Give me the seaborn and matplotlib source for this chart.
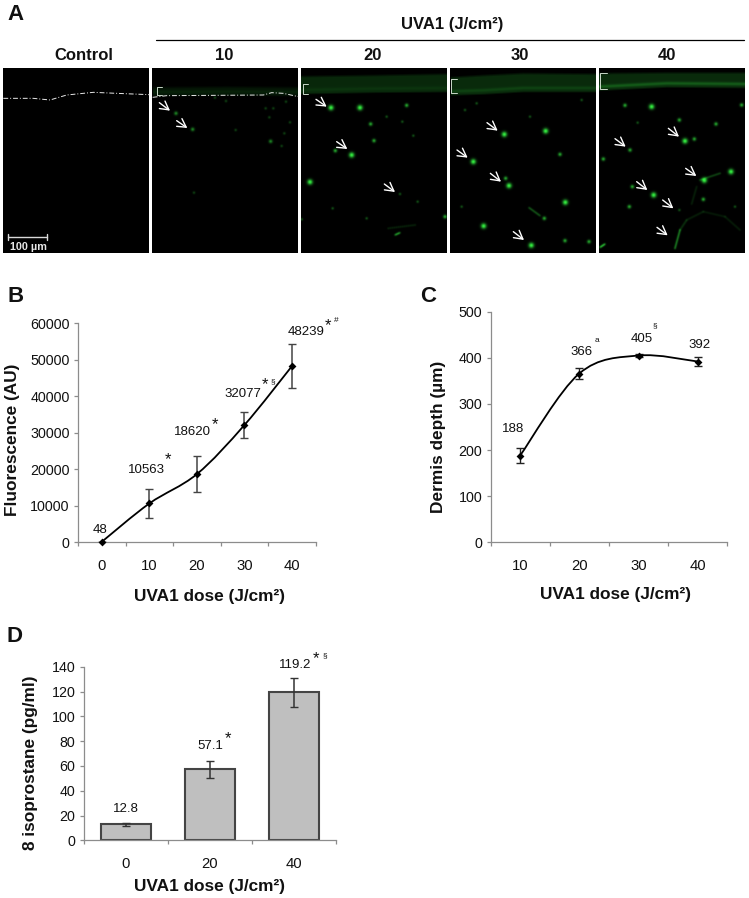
import numpy as np
import matplotlib
matplotlib.use("Agg")
import matplotlib.pyplot as plt
from matplotlib.path import Path
from matplotlib.patches import PathPatch
import seaborn as sns

# values
dose_b = [0, 10, 20, 30, 40]
fluor = [48, 10563, 18620, 32077, 48239]
fluor_err = [0, 4000, 4900, 3550, 5950]

dose_c = [10, 20, 30, 40]
depth = [188, 366, 405, 392]
depth_err = [17, 11, 4, 10]

dose_d = ["0", "20", "40"]
isop = [12.8, 57.1, 119.2]
isop_err = [1.5, 7, 12]

panel_names = ["Control", "10", "20", "30", "40"]
panel_left = [3, 152, 301, 450, 599]

# microscopy panel A, in 3x crop units: (x, y, strength 1-3). right crop is shifted by 1125
spots_10 = [(528, 340, 2), (578, 388, 2), (820, 325, 1), (797, 325, 1), (808, 352, 1), (858, 305, 1),
            (870, 367, 1), (707, 390, 1), (812, 424, 2), (853, 400, 1), (845, 438, 1), (582, 578, 1),
            (678, 303, 1), (645, 293, 1)]
spots_20 = [(993, 323, 3), (1080, 323, 3), (1112, 372, 2), (1055, 465, 3), (1006, 452, 2), (930, 546, 3),
            (998, 625, 1), (905, 658, 1), (1122, 422, 2), (1220, 316, 2), (1160, 350, 1), (1207, 365, 1),
            (1240, 407, 1), (1200, 582, 1), (1253, 605, 1), (1335, 650, 2), (1100, 655, 1)]
spots_30 = [(1513, 403, 3), (1637, 393, 3), (1680, 463, 2), (1420, 485, 3), (1517, 535, 2), (1527, 557, 3),
            (1696, 607, 3), (1633, 655, 2), (1451, 678, 3), (1594, 736, 3), (1767, 725, 2), (1695, 722, 2),
            (1430, 310, 1), (1745, 300, 1), (1395, 330, 1), (1590, 350, 1), (1385, 620, 1)]
spots_40 = [(1875, 316, 2), (1955, 320, 3), (2038, 360, 2), (2148, 372, 2), (1913, 368, 1), (2055, 423, 3),
            (2083, 417, 2), (1890, 450, 2), (1810, 477, 2), (2113, 541, 3), (2193, 515, 3), (1897, 560, 2),
            (1961, 585, 3), (2110, 598, 2), (1888, 620, 2), (2038, 630, 1), (2225, 315, 2), (2205, 620, 1)]
all_spots = [spots_10, spots_20, spots_30, spots_40]
spot_gain = [0.8, 1.0, 1.0, 1.0]
streaks = [[(1165, 685), (1245, 675)], [(1185, 705), (1200, 698)], [(1587, 623), (1620, 647)],
           [(2100, 540), (2160, 520)], [(2025, 745), (2040, 690)], [(2040, 690), (2060, 660), (2110, 635),
           (2175, 650), (2220, 690)], [(1800, 742), (1815, 732)], [(2075, 612), (2090, 560)]]
streak_amp = [0.3, 0.3, 0.4, 0.5, 0.8, 0.2, 0.4, 0.2]
arrows = [((478, 308), (510, 332)), ((530, 362), (562, 384)), ((948, 298), (980, 320)), ((1010, 425), (1042, 447)),
          ((1153, 552), (1185, 576)), ((1461, 368), (1493, 392)), ((1371, 450), (1403, 473)), ((1471, 520), (1503, 545)),
          ((1540, 695), (1572, 720)), ((2005, 385), (2037, 410)), ((1845, 416), (1877, 440)), ((2057, 505), (2089, 528)),
          ((1910, 545), (1942, 570)), ((1988, 600), (2020, 625)), ((1971, 682), (2003, 706))]
brackets = [(470, 485, 260, 285), (908, 925, 253, 283), (1353, 1371, 238, 280), (1801, 1820, 218, 268)]
dash_x = [[10, 100, 150, 200, 280, 350, 448], [458, 500, 790, 815, 850, 895]]
dash_y = [[295, 295, 300, 285, 277, 280, 284], [292, 287, 285, 278, 280, 290]]
band_x = [[458, 680, 896], [904, 1120, 1342], [1352, 1450, 1570, 1790], [1798, 2000, 2236]]
band_top = [[258, 256, 258], [225, 222, 218], [228, 222, 216, 218], [216, 214, 214]]
band_bot = [[288, 287, 288], [282, 278, 276], [286, 283, 276, 276], [272, 262, 264]]
band_amp = [0.09, 0.17, 0.18, 0.18]
edge_amp = [0.05, 0.05, 0.10, 0.20]

W, H = 749, 898
sns.set_theme(style="ticks")
plt.rcParams['font.family'] = ['Liberation Sans', 'DejaVu Sans']
plt.rcParams['text.color'] = '#111111'
GREY = "#8c8c8c"
TICK = 10.3
LAB = 12.4

fig = plt.figure(figsize=(W / 100, H / 100), dpi=100, facecolor="white")
over = fig.add_axes([0, 0, 1, 1], zorder=5)
over.axis("off")
over.patch.set_alpha(0)


def px_axes(l, t, r, b):
    return fig.add_axes([l / W, 1 - b / H, (r - l) / W, (b - t) / H])


def smooth_line(ax, x, y):
    # excel style smoothed line, bezier handles taken from the neighbours
    x, y = np.array(x, float), np.array(y, float)
    verts = [(x[0], y[0])]
    codes = [Path.MOVETO]
    n = len(x)
    for i in range(n - 1):
        a, d = max(i - 1, 0), min(i + 2, n - 1)
        verts.append((x[i] + (x[i + 1] - x[a]) / 6, y[i] + (y[i + 1] - y[a]) / 6))
        verts.append((x[i + 1] - (x[d] - x[i]) / 6, y[i + 1] - (y[d] - y[i]) / 6))
        verts.append((x[i + 1], y[i + 1]))
        codes += [Path.CURVE4] * 3
    ax.add_patch(PathPatch(Path(verts, codes), fill=False, edgecolor="black", lw=1.3, zorder=3))


def style_axes(ax, edges, centers, labels, ymax, ystep):
    ax.set_xlim(edges[0], edges[-1])
    ax.set_ylim(0, ymax)
    ax.set_xticks(edges)
    ax.set_xticklabels([])
    ax.set_xticks(centers, labels, minor=True)
    ax.tick_params(axis="x", which="minor", length=0, labelsize=TICK + 0.4, pad=12, labelcolor="#111111")
    ax.tick_params(axis="x", which="major", length=3, width=0.9, color=GREY)
    ax.set_yticks(np.arange(0, ymax + 1, ystep))
    ax.tick_params(axis="y", length=3, width=0.9, color=GREY, labelsize=TICK, pad=3, labelcolor="#111111")
    ax.set_xlabel("")
    ax.set_ylabel("")
    ax.patch.set_alpha(0)
    sns.despine(ax=ax)
    for s in ["left", "bottom"]:
        ax.spines[s].set_color(GREY)
        ax.spines[s].set_linewidth(0.9)


def bold(x, y, s, size=LAB, rot=0, ha="center"):
    over.text(x, y, s, fontsize=size, fontweight="bold", rotation=rot, ha=ha, va="center", color="#111111")


def note(x, y, s, size=9.5):
    over.text(x, y, s, fontsize=size, ha="center", va="center", color="#111111")


# panel A: green channel rendered from the lists above
top, bottom = 68, 253
yy, xx = np.mgrid[top:bottom, 0:W] + 0.5
green = np.zeros(xx.shape)
for bx, bt, bb, ba, ea in zip(band_x, band_top, band_bot, band_amp, edge_amp):
    cols = (xx >= bx[0] / 3) & (xx <= bx[-1] / 3)
    t = np.interp(xx, np.array(bx) / 3, np.array(bt) / 3)
    b = np.interp(xx, np.array(bx) / 3, np.array(bb) / 3)
    body = np.clip((yy - t) / 3, 0, 1) * np.clip((b - yy) / 2 + 0.5, 0, 1)
    green += cols * (ba * body + ea * np.exp(-((yy - (b - 4)) / 1.8) ** 2))
sigma = {1: 1.0, 2: 1.35, 3: 1.9}
amp = {1: 0.3, 2: 0.65, 3: 1.0}
for spots, gain in zip(all_spots, spot_gain):
    for x, y, k in spots:
        green += gain * amp[k] * np.exp(-((xx - x / 3) ** 2 + (yy - y / 3) ** 2) / (2 * sigma[k] ** 2))
for st, a in zip(streaks, streak_amp):
    for (x0, y0), (x1, y1) in zip(st[:-1], st[1:]):
        for f in np.linspace(0, 1, 14):
            cx, cy = (x0 + (x1 - x0) * f) / 3, (y0 + (y1 - y0) * f) / 3
            green += 0.35 * a * np.exp(-((xx - cx) ** 2 + (yy - cy) ** 2) / 1.6)
green = np.clip(green, 0, 1)
img = np.dstack([green * 0.2, green * 0.92, green * 0.25])
inside = np.zeros(xx.shape, bool)
for left in panel_left:
    inside |= (xx >= left) & (xx < left + 146)
img[~inside] = 1
over.imshow(img, extent=(0, W, bottom, top), aspect="auto", zorder=0, interpolation="bilinear")
for dx, dy in zip(dash_x, dash_y):
    over.plot(np.array(dx) / 3, np.array(dy) / 3, color="#e8e8e8", lw=0.7, ls=(0, (5, 2, 1, 2)), zorder=3)
for (tail, tip) in arrows:
    over.annotate("", xy=(tip[0] / 3, tip[1] / 3), xytext=(tail[0] / 3, tail[1] / 3),
                  arrowprops=dict(arrowstyle="->,head_length=0.5,head_width=0.28", color="white", lw=1.0,
                                  shrinkA=0, shrinkB=0), zorder=4)
for x0, x1, y0, y1 in brackets:
    over.plot(np.array([x1, x0, x0, x1]) / 3, np.array([y0, y0, y1, y1]) / 3, color="#c9d8c9", lw=0.7, zorder=4)
over.plot([8, 47], [237, 237], color="#d8d8d8", lw=1, zorder=4)
over.plot([8, 8], [234, 240], color="#d8d8d8", lw=1, zorder=4)
over.plot([47, 47], [234, 240], color="#d8d8d8", lw=1, zorder=4)
over.text(28, 247, "100 µm", color="#e6e6e6", fontsize=7.8, fontweight="bold", ha="center", va="center", zorder=4)
over.plot([156, 744], [40, 40], color="black", lw=0.9)
for name, cx in zip(panel_names, [84, 224, 373, 520, 667]):
    bold(cx, 55, name, 12)
bold(452, 24, "UVA1 (J/cm²)", 12)
bold(16, 14, "A", 16)

# panel B
ax_b = px_axes(78, 323.3, 315.7, 542)
smooth_line(ax_b, dose_b, fluor)
ax_b.errorbar(dose_b, fluor, yerr=fluor_err, fmt="none", ecolor="#444444", elinewidth=1.1, capsize=2.8, capthick=1, zorder=2)
sns.scatterplot(x=dose_b, y=fluor, marker="D", s=16, color="black", linewidth=0, ax=ax_b, zorder=4, clip_on=False)
style_axes(ax_b, [-5, 5, 15, 25, 35, 45], dose_b, [str(v) for v in dose_b], 60000, 10000)
bold(16, 296, "B", 16)
bold(210, 597, "UVA1 dose (J/cm²)")
bold(13, 440, "Fluorescence (AU)", rot=90)
for x, y, s in zip([100, 146, 192.5, 243, 306], [530, 470, 432, 394, 332], fluor):
    note(x, y, str(s))
for x, y, s, z in [(168, 460, "*", 12), (214.5, 425, "*", 12), (265, 385, "*", 12), (273, 382, "§", 6),
                   (328, 326, "*", 12), (336, 320, "#", 6)]:
    note(x, y, s, z)

# panel C
ax_c = px_axes(490.5, 311.7, 727.3, 542.3)
smooth_line(ax_c, dose_c, depth)
ax_c.errorbar(dose_c, depth, yerr=depth_err, fmt="none", ecolor="#222222", elinewidth=1, capsize=2.8, capthick=1, zorder=2)
sns.scatterplot(x=dose_c, y=depth, marker="D", s=16, color="black", linewidth=0, ax=ax_c, zorder=4)
style_axes(ax_c, [5, 15, 25, 35, 45], dose_c, [str(v) for v in dose_c], 500, 100)
bold(428, 296, "C", 16)
bold(615, 595, "UVA1 dose (J/cm²)")
bold(438, 437, "Dermis depth (µm)", rot=90)
for x, y, s in zip([513, 582, 642, 700], [429, 352, 339, 345], depth):
    note(x, y, str(s))
note(597, 340, "a", 6)
note(655, 326, "§", 6)

# panel D
ax_d = px_axes(83.7, 666.7, 335.7, 840.3)
sns.barplot(x=dose_d, y=isop, order=dose_d, color="#bfbfbf", saturation=1, width=0.6, edgecolor="#444444",
            linewidth=1.5, errorbar=None, ax=ax_d)
ax_d.errorbar(range(3), isop, yerr=isop_err, fmt="none", ecolor="#333333", elinewidth=1.1, capsize=2.8, capthick=1, zorder=4)
style_axes(ax_d, [-0.5, 0.5, 1.5, 2.5], [0, 1, 2], dose_d, 140, 20)
bold(14, 637, "D", 16)
bold(210, 886, "UVA1 dose (J/cm²)")
bold(31, 763, "8 isoprostane (pg/ml)", rot=90)
for x, y, s in zip([126, 210, 295], [809, 746, 665], isop):
    note(x, y, str(s))
for x, y, s, z in [(228, 739, "*", 12), (316, 659, "*", 12), (325, 656, "§", 6)]:
    note(x, y, s, z)

over.set_xlim(0, W)
over.set_ylim(H, 0)
fig.savefig("out.png", dpi=100)
